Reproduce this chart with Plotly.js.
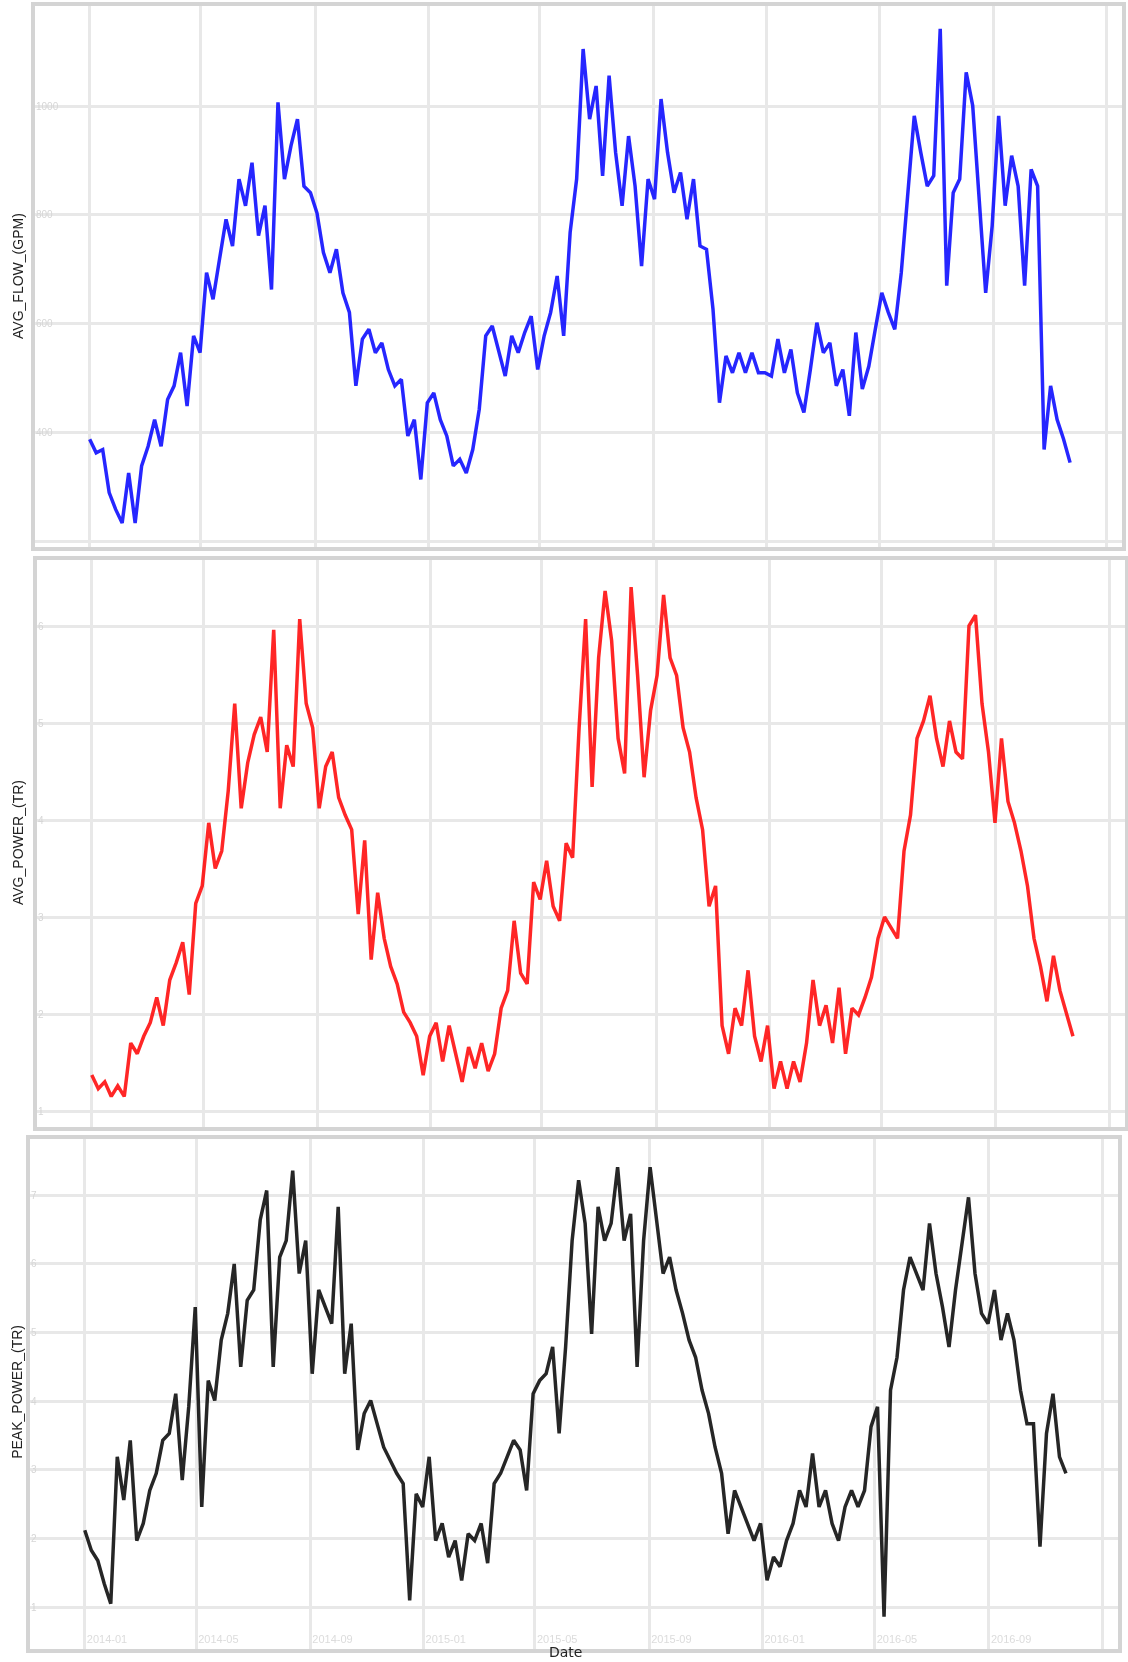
<!DOCTYPE html>
<html>
<head>
<meta charset="utf-8">
<script src="https://cdn.plot.ly/plotly-3.0.1.min.js"></script>
<style>html,body{margin:0;padding:0;background:#fff;}#chart{width:1128px;height:1662px;filter:blur(0.7px);}</style>
</head>
<body>
<div id="chart"></div>
<script>
// Weekly samples starting 2014-01-01
const startDate = '2014-01-01';
const stepDays = 7;

const avgFlow = [
  388, 363, 369, 290, 259, 234, 326, 234, 339, 375,
  424, 375, 461, 486, 547, 449, 578, 547, 694, 645,
  719, 792, 743, 866, 817, 896, 762, 817, 663, 1007,
  866, 927, 976, 853, 841, 804, 731, 694, 737, 657,
  621, 486, 572, 590, 547, 565, 516, 486, 498, 394,
  424, 314, 455, 473, 424, 394, 339, 351, 326, 369,
  443, 578, 596, 547, 504, 578, 547, 584, 614, 516,
  578, 621, 688, 578, 768, 866, 1105, 976, 1037, 872,
  1056, 915, 817, 945, 853, 706, 866, 829, 1013, 915,
  841, 878, 792, 866, 743, 737, 627, 455, 541, 510,
  547, 510, 547, 510, 510, 504, 572, 510, 553, 473,
  437, 516, 602, 547, 565, 486, 516, 431, 584, 480,
  522, 590, 657, 621, 590, 694, 829, 982, 915, 853,
  872, 1142, 670, 841, 866, 1062, 1001, 817, 657, 780,
  982, 817, 909, 853, 670, 884, 853, 369, 486, 424,
  388, 345
];

const avgPower = [
  1.38, 1.24, 1.31, 1.16, 1.27, 1.16, 1.71, 1.60, 1.78, 1.92,
  2.18, 1.89, 2.36, 2.54, 2.75, 2.21, 3.15, 3.33, 3.98, 3.51,
  3.69, 4.31, 5.21, 4.13, 4.60, 4.89, 5.07, 4.71, 5.97, 4.13,
  4.78, 4.56, 6.08, 5.21, 4.96, 4.13, 4.56, 4.71, 4.24, 4.06,
  3.91, 3.04, 3.80, 2.57, 3.26, 2.79, 2.50, 2.32, 2.03, 1.92,
  1.78, 1.38, 1.78, 1.92, 1.52, 1.89, 1.60, 1.31, 1.67, 1.45,
  1.71, 1.42, 1.60, 2.07, 2.25, 2.97, 2.43, 2.32, 3.37, 3.19,
  3.59, 3.12, 2.97, 3.77, 3.62, 4.96, 6.08, 4.35, 5.68, 6.37,
  5.86, 4.85, 4.49, 6.41, 5.50, 4.45, 5.14, 5.50, 6.33, 5.68,
  5.50, 4.96, 4.71, 4.24, 3.91, 3.12, 3.33, 1.89, 1.60, 2.07,
  1.89, 2.46, 1.78, 1.52, 1.89, 1.24, 1.52, 1.24, 1.52, 1.31,
  1.71, 2.36, 1.89, 2.10, 1.71, 2.28, 1.60, 2.07, 2.00, 2.18,
  2.39, 2.79, 3.01, 2.90, 2.79, 3.69, 4.06, 4.85, 5.03, 5.29,
  4.85, 4.56, 5.03, 4.71, 4.64, 6.01, 6.12, 5.21, 4.71, 3.98,
  4.85, 4.20, 3.98, 3.69, 3.33, 2.79, 2.50, 2.14, 2.61, 2.25,
  2.03, 1.78
];

const peakPower = [
  2.12, 1.83, 1.68, 1.34, 1.05, 3.19, 2.56, 3.43, 1.97, 2.22,
  2.70, 2.95, 3.43, 3.53, 4.11, 2.85, 3.92, 5.37, 2.46, 4.30,
  4.01, 4.89, 5.28, 6.00, 4.50, 5.47, 5.62, 6.64, 7.07, 4.50,
  6.10, 6.34, 7.36, 5.86, 6.34, 4.40, 5.62, 5.37, 5.13, 6.83,
  4.40, 5.13, 3.29, 3.82, 4.01, 3.67, 3.33, 3.14, 2.95, 2.80,
  1.10, 2.65, 2.46, 3.19, 1.97, 2.22, 1.73, 1.97, 1.39, 2.07,
  1.97, 2.22, 1.64, 2.80, 2.95, 3.19, 3.43, 3.29, 2.70, 4.11,
  4.30, 4.40, 4.79, 3.53, 4.79, 6.34, 7.22, 6.59, 4.98, 6.83,
  6.34, 6.59, 7.41, 6.34, 6.73, 4.50, 6.34, 7.41, 6.59, 5.86,
  6.10, 5.62, 5.28, 4.89, 4.64, 4.16, 3.82, 3.33, 2.95, 2.07,
  2.70, 2.46, 2.22, 1.97, 2.22, 1.39, 1.73, 1.59, 1.97, 2.22,
  2.70, 2.46, 3.24, 2.46, 2.70, 2.22, 1.97, 2.46, 2.70, 2.46,
  2.70, 3.63, 3.92, 0.86, 4.16, 4.64, 5.62, 6.10, 5.86, 5.62,
  6.59, 5.86, 5.37, 4.79, 5.62, 6.34, 6.97, 5.86, 5.28, 5.13,
  5.62, 4.89, 5.28, 4.89, 4.16, 3.67, 3.67, 1.88, 3.53, 4.11,
  3.19, 2.95
];

const yTitles = ['AVG_FLOW_(GPM)', 'AVG_POWER_(TR)', 'PEAK_POWER_(TR)'];
const xTitle = 'Date';

const t0 = Date.parse(startDate + 'T00:00:00Z');
const dates = avgFlow.map((_, i) => new Date(t0 + i * stepDays * 86400000).toISOString().slice(0, 10));

const lineW = 3.5;
const traces = [
  {x: dates, y: avgFlow, xaxis: 'x', yaxis: 'y', type: 'scatter', mode: 'lines',
   line: {color: '#0000ff', width: lineW}, opacity: 0.85, name: yTitles[0]},
  {x: dates, y: avgPower, xaxis: 'x2', yaxis: 'y2', type: 'scatter', mode: 'lines',
   line: {color: '#ff0000', width: lineW}, opacity: 0.85, name: yTitles[1]},
  {x: dates, y: peakPower, xaxis: 'x3', yaxis: 'y3', type: 'scatter', mode: 'lines',
   line: {color: '#000000', width: lineW}, opacity: 0.85, name: yTitles[2]}
];

const xRange = ['2013-11-03', '2017-01-18'];
function xa(domain, anchor, showLabels) {
  return {
    domain: domain, anchor: anchor, type: 'date', range: xRange,
    tick0: '2014-01-01', dtick: 'M4', tickformat: '%Y-%m',
    showgrid: true, gridcolor: '#e8e8e8', gridwidth: 3,
    showline: true, linecolor: '#d4d4d4', linewidth: 4, mirror: true,
    zeroline: false, ticks: '',
    showticklabels: showLabels, ticklabelposition: 'inside right',
    tickfont: {family: 'Liberation Sans, Arial, sans-serif', size: 11, color: '#dcdcdc'}
  };
}
function ya(domain, anchor, range, dtick, tick0) {
  return {
    domain: domain, anchor: anchor, range: range, dtick: dtick, tick0: tick0,
    showgrid: true, gridcolor: '#e8e8e8', gridwidth: 3,
    showline: true, linecolor: '#d4d4d4', linewidth: 4, mirror: true,
    zeroline: false, ticks: '',
    ticklabelposition: 'inside',
    tickfont: {family: 'Liberation Sans, Arial, sans-serif', size: 10, color: '#d6d6d6'}
  };
}

const titleFont = {family: 'Liberation Sans, Arial, sans-serif', size: 14, color: '#222'};
const layout = {
  width: 1128, height: 1662,
  margin: {l: 0, r: 0, t: 0, b: 0},
  paper_bgcolor: '#ffffff', plot_bgcolor: '#ffffff',
  showlegend: false,
  xaxis: xa([0.0310, 0.9947], 'y', false),
  xaxis2: xa([0.0328, 0.9973], 'y2', false),
  xaxis3: xa([0.0266, 0.9911], 'y3', true),
  yaxis: ya([0.6709, 0.9964], 'x', [190, 1184], 200, 200),
  yaxis2: ya([0.3219, 0.6631], 'x2', [0.845, 6.69], 1, 0),
  yaxis3: ya([0.0078, 0.3147], 'x3', [0.39, 7.82], 1, 0),
  annotations: [
    {text: yTitles[0], xref: 'paper', yref: 'paper', x: 0.016, y: 0.834, textangle: -90,
     showarrow: false, xanchor: 'center', yanchor: 'middle', font: titleFont},
    {text: yTitles[1], xref: 'paper', yref: 'paper', x: 0.016, y: 0.4928, textangle: -90,
     showarrow: false, xanchor: 'center', yanchor: 'middle', font: titleFont},
    {text: yTitles[2], xref: 'paper', yref: 'paper', x: 0.015, y: 0.1625, textangle: -90,
     showarrow: false, xanchor: 'center', yanchor: 'middle', font: titleFont},
    {text: xTitle, xref: 'paper', yref: 'paper', x: 0.5009, y: 0, showarrow: false,
     xanchor: 'center', yanchor: 'bottom', font: {family: 'DejaVu Sans, sans-serif', size: 14, color: '#222'}}
  ]
};

Plotly.newPlot('chart', traces, layout, {staticPlot: true, displayModeBar: false});
</script>
</body>
</html>
